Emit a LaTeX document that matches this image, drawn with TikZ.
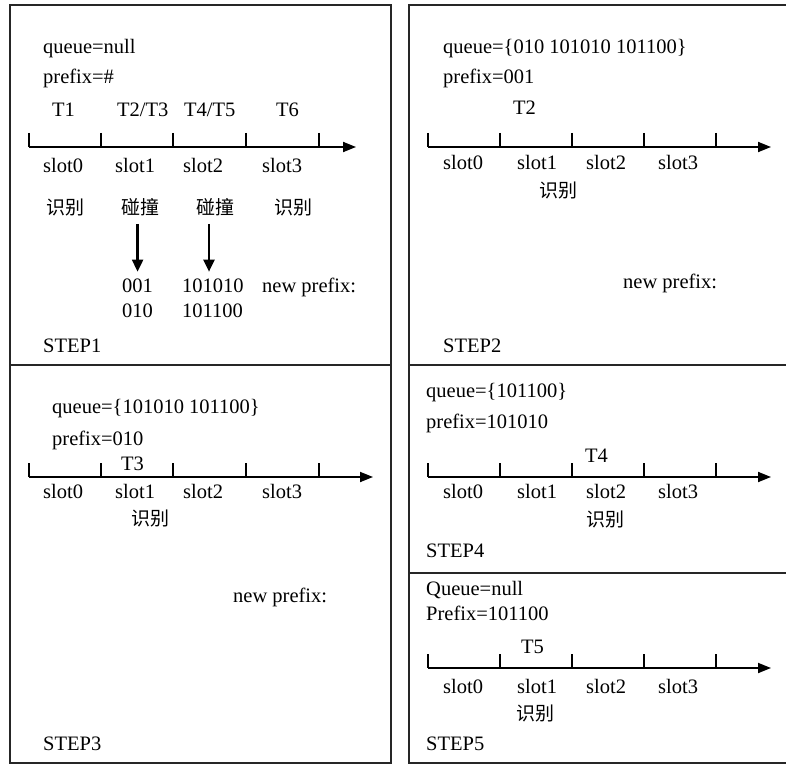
\documentclass[tikz,border=0pt]{standalone}
\usepackage{fontspec}
\setmainfont{Liberation Serif}
\newfontfamily\cjk{Noto Sans CJK SC}
\usetikzlibrary{arrows.meta}
\begin{document}
\begin{tikzpicture}[x=1pt,y=-1pt,
  txt/.style={anchor=base west,inner sep=0pt,font=\fontsize{20.5}{24}\selectfont},
  zh/.style={anchor=center,inner sep=0pt,font=\cjk\fontsize{19}{22}\selectfont},
  frame/.style={line width=1.8pt,draw=black!85},
  axisline/.style={line width=1.8pt,-{Triangle[length=13pt,width=10pt]}},
  tickline/.style={line width=1.4pt},
  downarrow/.style={line width=2.2pt,-{Triangle[length=12pt,width=11pt]}}]

\fill[white] (0,0) rectangle (786,767);
\useasboundingbox (0,0) rectangle (786,767);
\clip (0,0) rectangle (786,767);

% panel frames (the right column runs past the page edge)
\draw[frame] (10,5) rectangle (391,763);
\draw[frame] (10,365) -- (391,365);
\draw[frame] (409,5) rectangle (792,763);
\draw[frame] (409,365) -- (792,365);
\draw[frame] (409,573) -- (792,573);

% time axes with slot ticks
\foreach \y/\xend in {147/356, 477/373} {
  \draw[axisline] (29,\y) -- (\xend,\y);
  \foreach \x in {29,101,173,246,319} \draw[tickline] (\x,\y-14) -- (\x,\y);
}
\foreach \y in {147, 477, 668} {
  \draw[axisline] (428,\y) -- (771,\y);
  \foreach \x in {428,500,572,644,716} \draw[tickline] (\x,\y-14) -- (\x,\y);
}

% STEP1
\node[txt] (q1) at (43,54) {queue=null};
\node[txt] (p1) at (43,84) {prefix=\#};
\node[txt] (t1a) at (52,117) {T1};
\node[txt] (t1b) at (117,117) {T2/T3};
\node[txt] (t1c) at (184,117) {T4/T5};
\node[txt] (t1d) at (276,117) {T6};
\node[txt] (s1a) at (43,173) {slot0};
\node[txt] (s1b) at (115,173) {slot1};
\node[txt] (s1c) at (183,173) {slot2};
\node[txt] (s1d) at (262,173) {slot3};
\node[zh] (r1a) at (65,207) {识别};
\node[zh] (c1b) at (140,207) {碰撞};
\node[zh] (c1c) at (215,207) {碰撞};
\node[zh] (r1d) at (293,207) {识别};
\node[txt] (n1a) at (122,292) {001};
\node[txt] (n1b) at (122,317) {010};
\node[txt] (n1c) at (182,292) {101010};
\node[txt] (n1d) at (182,317) {101100};
\node[txt] (np1) at (262,292) {new prefix:};
\node[txt] (st1) at (43,352) {STEP1};
\draw[downarrow] ([yshift=-8pt]c1b.south -| n1a.north) -- ([yshift=6.5pt]n1a.north);
\draw[downarrow] ([yshift=-8pt]c1c.south -| 209,0) -- ([yshift=6.5pt]n1c.north -| 209,0);

% STEP2
\node[txt] (q2) at (443,54) {queue=\{010 101010 101100\}};
\node[txt] (p2) at (443,84) {prefix=001};
\node[txt] (t2) at (513,115) {T2};
\node[txt] (s2a) at (443,170) {slot0};
\node[txt] (s2b) at (517,170) {slot1};
\node[txt] (s2c) at (586,170) {slot2};
\node[txt] (s2d) at (658,170) {slot3};
\node[zh] (r2) at (558,190) {识别};
\node[txt] (np2) at (623,288) {new prefix:};
\node[txt] (st2) at (443,352) {STEP2};

% STEP3
\node[txt] (q3) at (52,413) {queue=\{101010 101100\}};
\node[txt] (p3) at (52,445) {prefix=010};
\node[txt] (t3) at (121,470) {T3};
\node[txt] (s3a) at (43,498) {slot0};
\node[txt] (s3b) at (115,498) {slot1};
\node[txt] (s3c) at (183,498) {slot2};
\node[txt] (s3d) at (262,498) {slot3};
\node[zh] (r3) at (150,518) {识别};
\node[txt] (np3) at (233,602) {new prefix:};
\node[txt] (st3) at (43,750) {STEP3};

% STEP4
\node[txt] (q4) at (426,397) {queue=\{101100\}};
\node[txt] (p4) at (426,428) {prefix=101010};
\node[txt] (t4) at (585,462) {T4};
\node[txt] (s4a) at (443,498) {slot0};
\node[txt] (s4b) at (517,498) {slot1};
\node[txt] (s4c) at (586,498) {slot2};
\node[txt] (s4d) at (658,498) {slot3};
\node[zh] (r4) at (605,519) {识别};
\node[txt] (st4) at (426,557) {STEP4};

% STEP5
\node[txt] (q5) at (426,595) {Queue=null};
\node[txt] (p5) at (426,620) {Prefix=101100};
\node[txt] (t5) at (521,653) {T5};
\node[txt] (s5a) at (443,693) {slot0};
\node[txt] (s5b) at (517,693) {slot1};
\node[txt] (s5c) at (586,693) {slot2};
\node[txt] (s5d) at (658,693) {slot3};
\node[zh] (r5) at (535,713) {识别};
\node[txt] (st5) at (426,750) {STEP5};
\end{tikzpicture}
\end{document}
